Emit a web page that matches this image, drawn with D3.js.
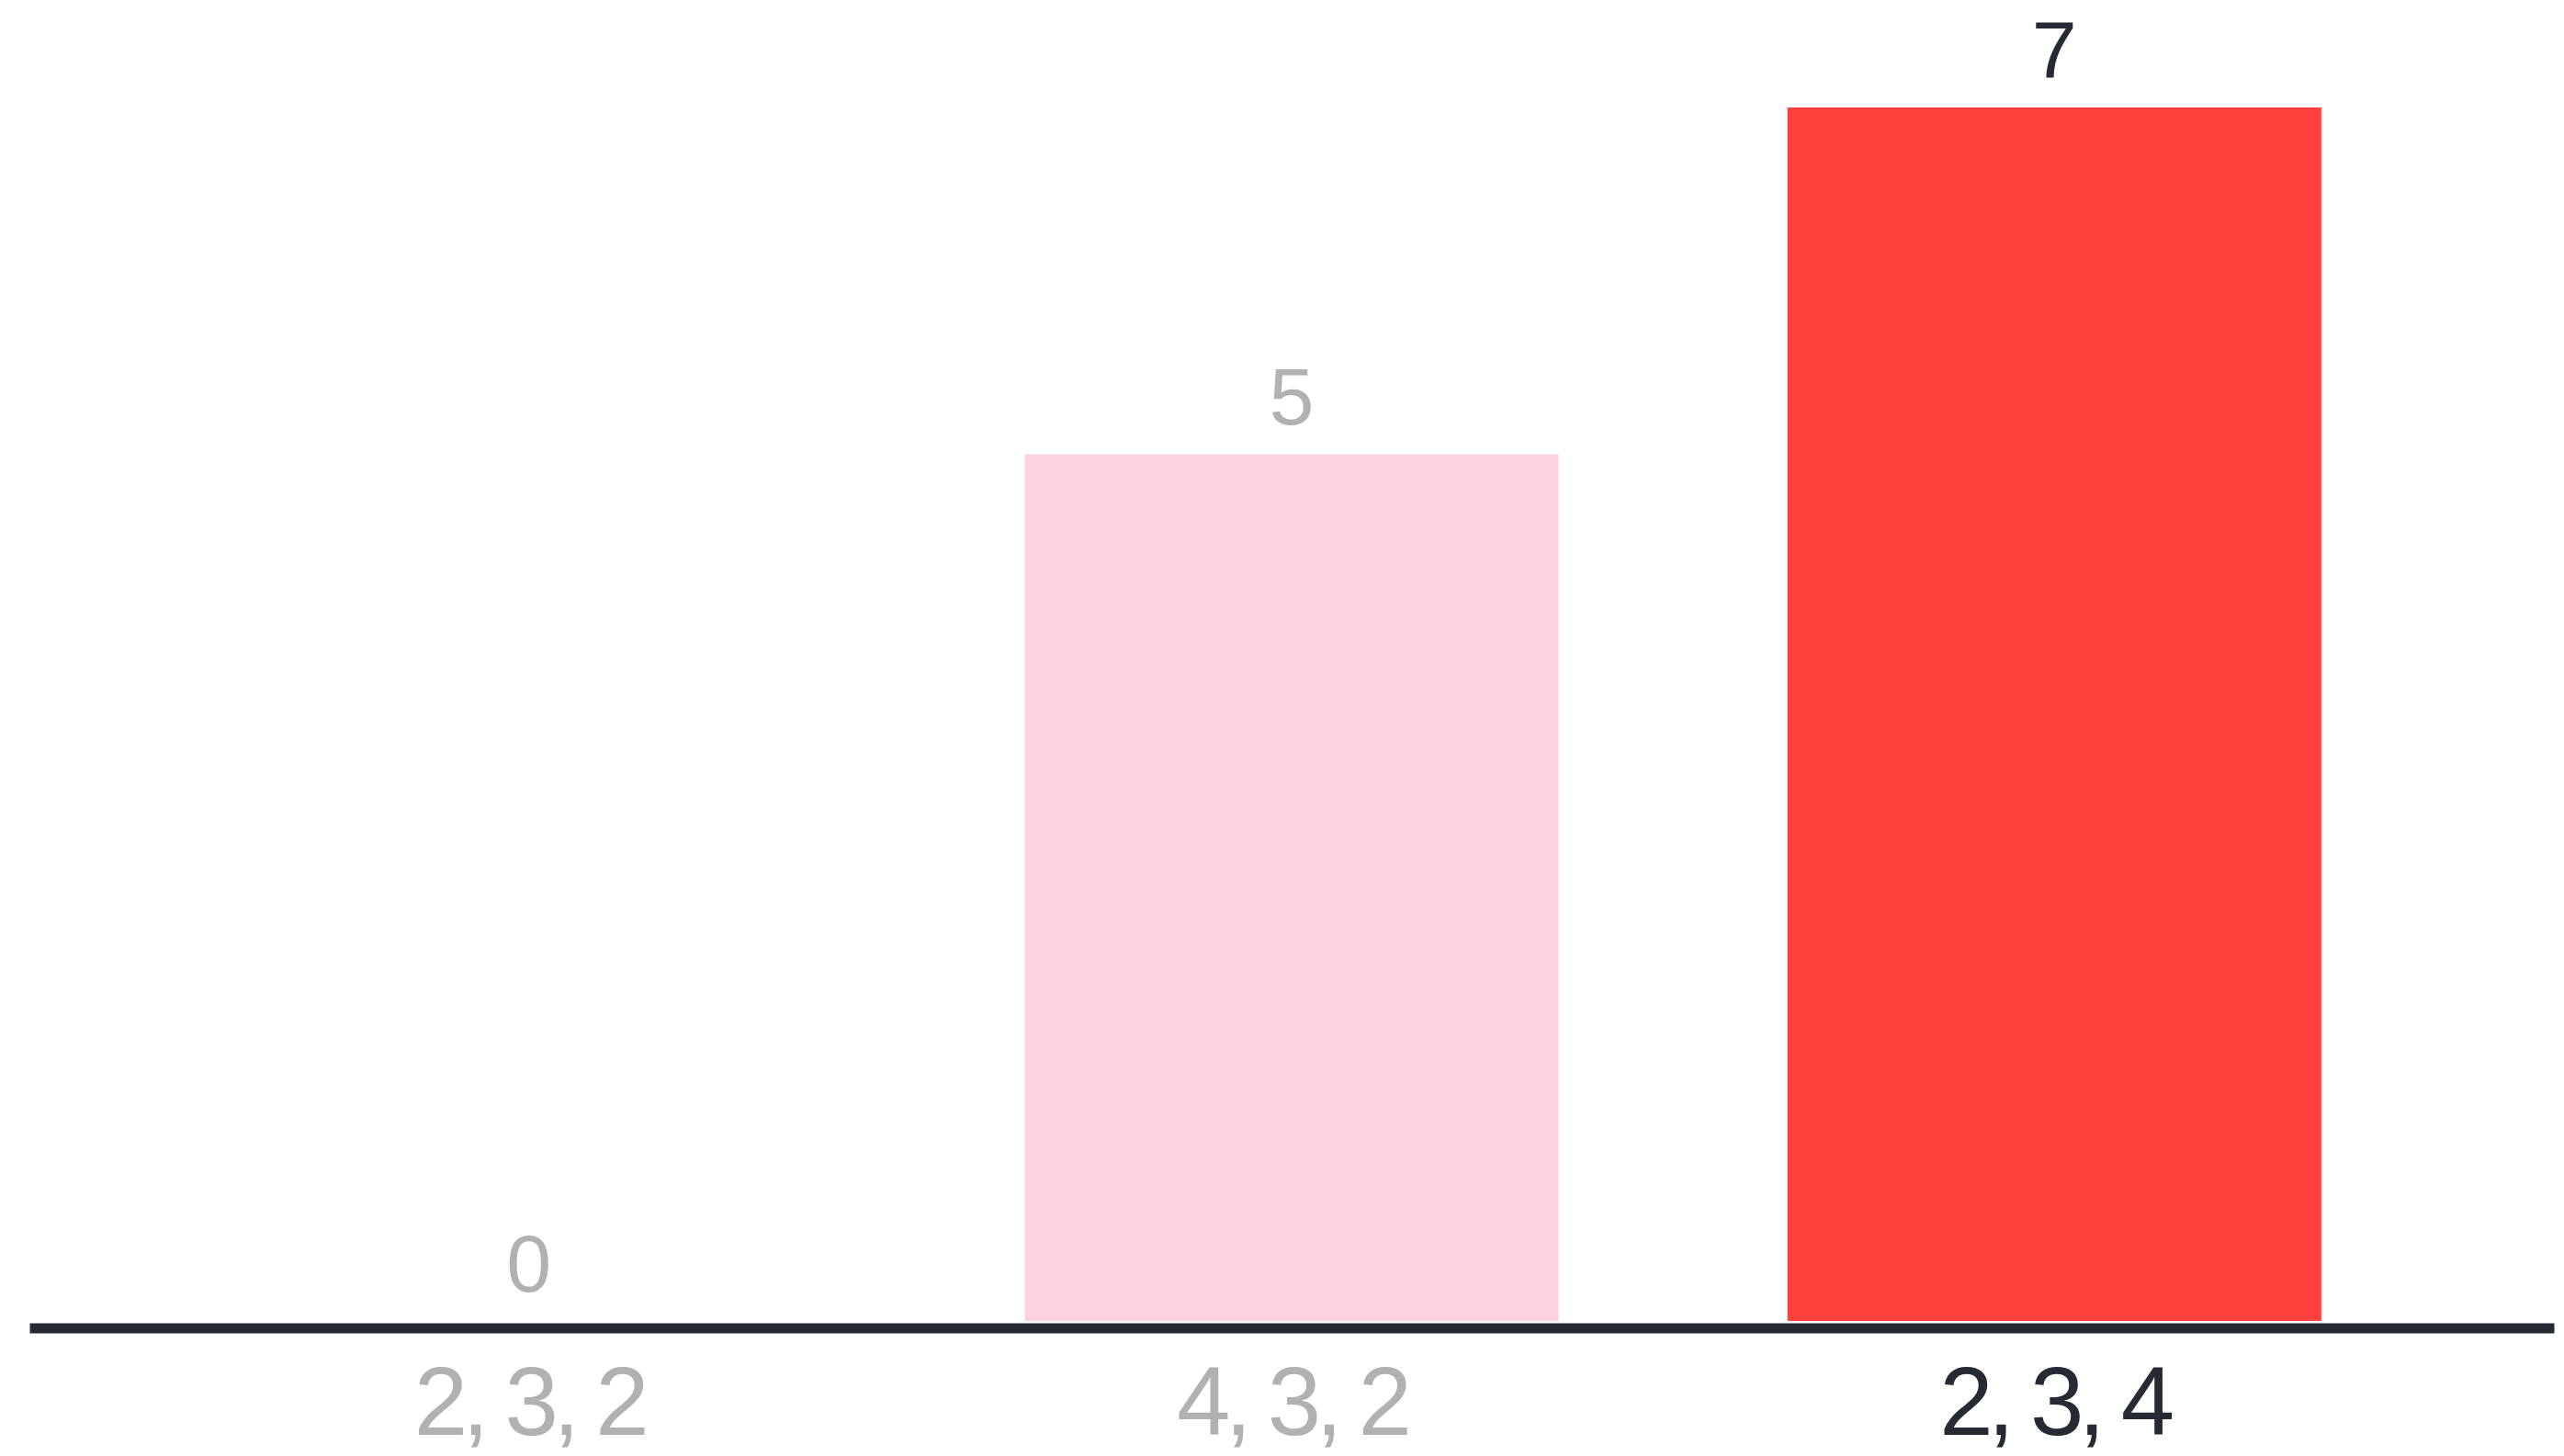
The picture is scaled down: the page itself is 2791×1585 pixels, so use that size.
<!DOCTYPE html>
<html>
<head>
<meta charset="utf-8">
<script src="https://cdn.jsdelivr.net/npm/d3@7"></script>
<style>
  html, body { margin: 0; padding: 0; background: #ffffff; }
  svg { display: block; }
</style>
</head>
<body>
<svg id="chart" width="2791" height="1585"></svg>
<script>
// Bar chart: one bar per triple, the current selection highlighted.
const categories = ["2, 3, 2", "4, 3, 2", "2, 3, 4"];
const values = [0, 5, 7];
const barColors = ["#fdd1df", "#fdd1df", "#ff403d"];
const labelColors = ["#b1b1b1", "#b1b1b1", "#262a33"];

const svg = d3.select("#chart");

const x = d3.scaleBand()
  .domain(categories)
  .range([32, 2780])
  .paddingInner(0.3)
  .paddingOuter(0.305);

const y = d3.scaleLinear()
  .domain([0, 7])
  .range([1438, 117]);

const data = categories.map((c, i) => ({ cat: c, value: values[i], fill: barColors[i], text: labelColors[i] }));

// bars
svg.append("g")
  .selectAll("rect")
  .data(data)
  .join("rect")
  .attr("x", d => x(d.cat))
  .attr("width", x.bandwidth())
  .attr("y", d => y(d.value))
  .attr("height", d => y(0) - y(d.value))
  .attr("fill", d => d.fill);

// value labels above each bar
svg.append("g")
  .selectAll("text")
  .data(data)
  .join("text")
  .attr("x", d => x(d.cat) + x.bandwidth() / 2)
  .attr("y", d => y(d.value) - 32)
  .attr("text-anchor", "middle")
  .attr("font-family", "'Liberation Sans', Arial, Helvetica, sans-serif")
  .attr("font-size", 88)
  .attr("fill", d => d.text)
  .text(d => d.value);

// baseline axis
const axis = svg.append("g")
  .attr("transform", `translate(0, 1445.5)`)
  .call(d3.axisBottom(x).tickSize(0).tickPadding(0).tickSizeOuter(0));

axis.select(".domain")
  .attr("stroke", "#262a33")
  .attr("stroke-width", 11);

axis.selectAll(".tick text")
  .attr("y", 116.5)
  .attr("dy", 0)
  .attr("font-family", "'Liberation Sans', Arial, Helvetica, sans-serif")
  .attr("font-size", 105)
  .attr("letter-spacing", "-6px")
  .attr("fill", (d, i) => labelColors[i]);
</script>
</body>
</html>
